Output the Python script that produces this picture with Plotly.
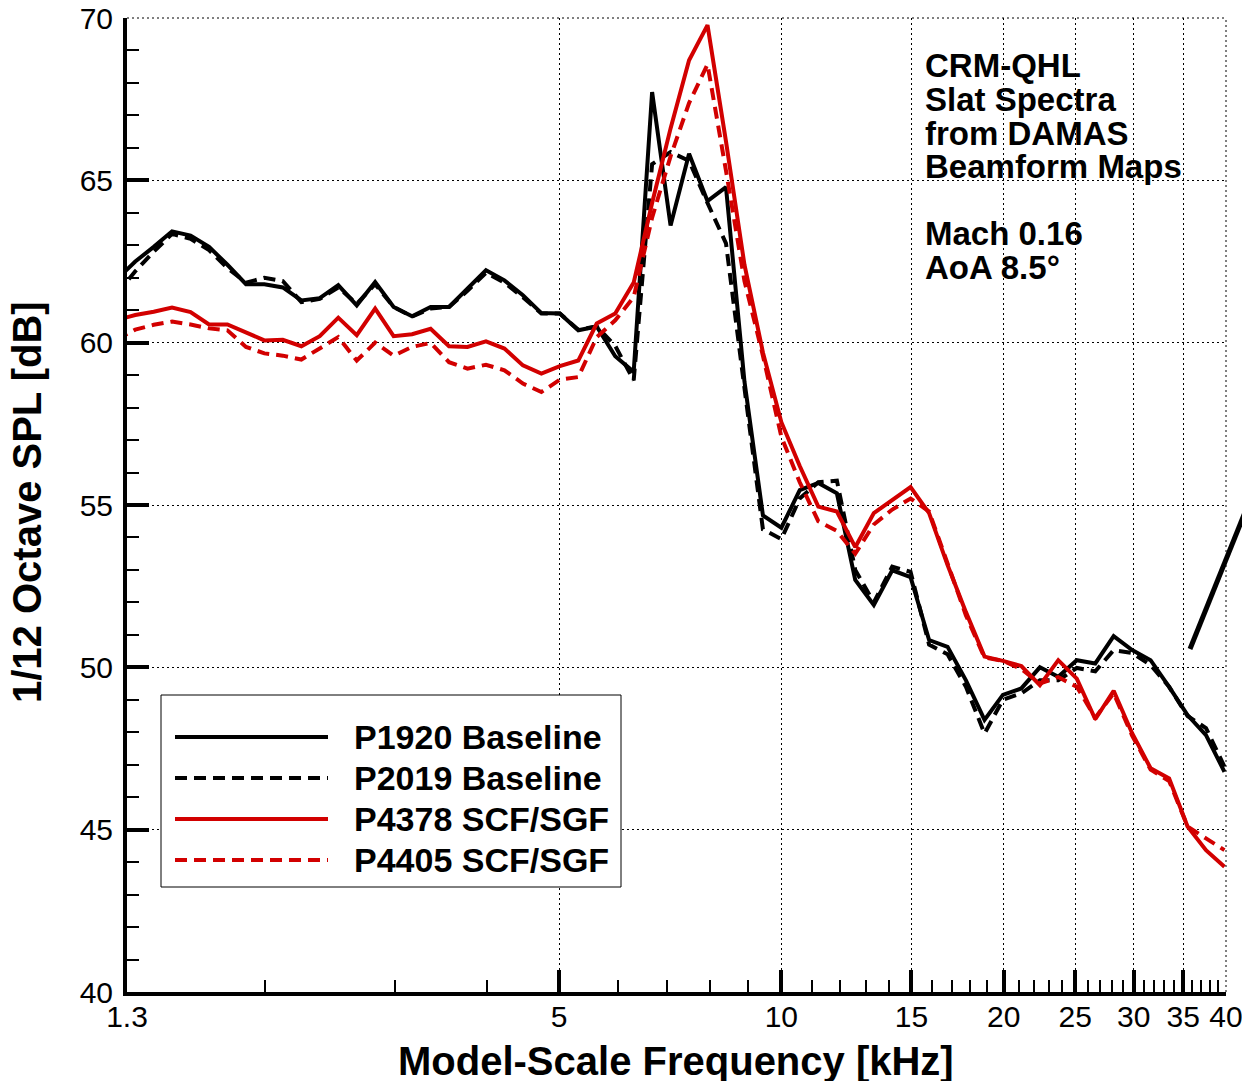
import math
import plotly.graph_objects as go

# 1/12-octave band centre frequencies [kHz]
freq_khz = [1.259, 1.334, 1.413, 1.496, 1.585, 1.679, 1.778, 1.884, 1.995, 2.113,
            2.239, 2.371, 2.512, 2.661, 2.818, 2.985, 3.162, 3.350, 3.548, 3.758,
            3.981, 4.217, 4.467, 4.732, 5.012, 5.309, 5.623, 5.957, 6.310, 6.683,
            7.079, 7.499, 7.943, 8.414, 8.913, 9.441, 10.00, 10.59, 11.22, 11.89,
            12.59, 13.34, 14.13, 14.96, 15.85, 16.79, 17.78, 18.84, 19.95, 21.13,
            22.39, 23.71, 25.12, 26.61, 28.18, 29.85, 31.62, 33.50, 35.48, 37.58,
            39.81]

p1920_baseline = [61.95, 62.5, 62.95, 63.43, 63.3, 62.95, 62.4, 61.8, 61.8, 61.7,
                  61.3, 61.37, 61.77, 61.15, 61.87, 61.1, 60.81, 61.1, 61.1, 61.66,
                  62.23, 61.92, 61.46, 60.91, 60.9, 60.38, 60.5, 59.58, 59.1, 67.72,
                  63.61, 65.82, 64.36, 64.79, 58.8, 54.68, 54.3, 55.46, 55.68, 55.36,
                  52.69, 51.92, 52.99, 52.78, 50.84, 50.63, 49.6, 48.38, 49.15, 49.35,
                  50.0, 49.71, 50.22, 50.12, 50.96, 50.53, 50.22, 49.4, 48.53, 47.91,
                  46.78]

p2019_baseline = [61.5, 62.2, 62.8, 63.35, 63.2, 62.85, 62.3, 61.85, 62.0, 61.9,
                  61.25, 61.35, 61.7, 61.2, 61.8, 61.1, 60.8, 61.05, 61.1, 61.6,
                  62.15, 61.85, 61.4, 60.9, 60.9, 60.4, 60.5, 59.9, 58.84, 65.5,
                  65.87, 65.6, 64.3, 63.06, 58.6, 54.25, 53.95, 55.2, 55.7, 55.75,
                  53.0, 52.0, 53.1, 52.94, 50.7, 50.4, 49.4, 47.96, 49.0, 49.2,
                  49.6, 49.6, 49.98, 49.88, 50.53, 50.44, 50.07, 49.4, 48.5, 48.13,
                  46.94]

p4378_scf_sgf = [60.7, 60.85, 60.95, 61.08, 60.94, 60.56, 60.56, 60.3, 60.07, 60.09,
                 59.89, 60.2, 60.77, 60.23, 61.05, 60.2, 60.26, 60.43, 59.89, 59.87,
                 60.04, 59.82, 59.3, 59.05, 59.28, 59.45, 60.59, 60.9, 61.85, 64.3,
                 66.6, 68.7, 69.78, 66.2, 62.4, 59.7, 57.55, 56.2, 54.95, 54.8,
                 53.7, 54.75, 55.16, 55.55, 54.75, 53.15, 51.7, 50.33, 50.2, 50.04,
                 49.45, 50.22, 49.65, 48.4, 49.28, 47.97, 46.89, 46.58, 45.1, 44.37,
                 43.86]

p4405_scf_sgf = [60.1, 60.4, 60.55, 60.65, 60.56, 60.44, 60.38, 59.87, 59.67, 59.6,
                 59.48, 59.83, 60.17, 59.45, 60.0, 59.6, 59.87, 59.99, 59.4, 59.2,
                 59.32, 59.15, 58.74, 58.48, 58.86, 58.94, 60.17, 60.69, 61.4, 63.85,
                 65.74, 67.38, 68.57, 65.3, 61.9, 59.6, 57.1, 55.7, 54.5, 54.2,
                 53.5, 54.4, 54.86, 55.2, 54.8, 53.2, 51.6, 50.3, 50.2, 49.95,
                 49.5, 49.7, 49.4, 48.45, 49.2, 47.9, 46.85, 46.5, 45.1, 44.73,
                 44.37]

series_names = ["P1920 Baseline", "P2019 Baseline", "P4378 SCF/SGF", "P4405 SCF/SGF"]
series_values = [p1920_baseline, p2019_baseline, p4378_scf_sgf, p4405_scf_sgf]

x_tick_vals = [1.3, 5, 10, 15, 20, 25, 30, 35, 40]
x_tick_text = ["1.3", "5", "10", "15", "20", "25", "30", "35", "40"]
x_minor_vals = [2, 3, 4, 6, 7, 8, 9, 11, 12, 13, 14, 16, 17, 18, 19,
                21, 22, 23, 24, 26, 27, 28, 29, 31, 32, 33, 34, 36, 37, 38, 39]
y_tick_vals = [40, 45, 50, 55, 60, 65, 70]

info_lines = ["CRM-QHL", "Slat Spectra", "from DAMAS", "Beamform Maps", "Mach 0.16", "AoA 8.5°"]

RED = "#d20000"
DASH = "12px,7px"
GRIDDASH = "2px,3px"
styles = [dict(color="black", dash="solid"),
          dict(color="black", dash=DASH),
          dict(color=RED, dash="solid"),
          dict(color=RED, dash=DASH)]

W, H = 1242, 1081
L, R, T, B = 127, 16, 18, 89
PW, PH = W - L - R, H - T - B


def px_x(px):
    return (px - L) / PW


def px_y(py):
    return (H - B - py) / PH


FONT = "Liberation Sans, Arial, Helvetica, sans-serif"

fig = go.Figure()
for name, vals, st in zip(series_names, series_values, styles):
    fig.add_trace(go.Scatter(x=freq_khz, y=vals, mode="lines", name=name,
                             line=dict(color=st["color"], dash=st["dash"], width=4),
                             showlegend=False))

shapes = []
annotations = []

# dotted frame on top and right
shapes.append(dict(type="line", xref="paper", yref="paper", x0=0, x1=1, y0=1, y1=1,
                   line=dict(color="black", width=1, dash=GRIDDASH)))
shapes.append(dict(type="line", xref="paper", yref="paper", x0=1, x1=1, y0=0, y1=1,
                   line=dict(color="black", width=1, dash=GRIDDASH)))

# manual legend
shapes.append(dict(type="rect", xref="paper", yref="paper",
                   x0=px_x(161), x1=px_x(621), y0=px_y(887), y1=px_y(695),
                   line=dict(color="black", width=1), fillcolor="white", layer="above"))
legend_rows = [737, 778, 819, 860]
for name, st, ry in zip(series_names, styles, legend_rows):
    shapes.append(dict(type="line", xref="paper", yref="paper",
                       x0=px_x(175), x1=px_x(328), y0=px_y(ry), y1=px_y(ry),
                       line=dict(color=st["color"], dash=st["dash"], width=4), layer="above"))
    annotations.append(dict(xref="paper", yref="paper", x=px_x(352), y=px_y(ry),
                            xanchor="left", yanchor="middle", showarrow=False, text=name,
                            font=dict(family=FONT, size=34, color="black", weight="bold")))

# info text block
info_y = [66, 100, 133, 166, 234, 267]
for txt, iy in zip(info_lines, info_y):
    annotations.append(dict(xref="paper", yref="paper", x=px_x(923), y=px_y(iy),
                            xanchor="left", yanchor="middle", showarrow=False, text=txt,
                            font=dict(family=FONT, size=33, color="black", weight="bold")))

# pointer line at right edge
shapes.append(dict(type="line", xref="paper", yref="paper",
                   x0=px_x(1190), y0=px_y(649), x1=px_x(1262), y1=px_y(470),
                   line=dict(color="black", width=5)))

# axis titles
annotations.append(dict(xref="paper", yref="paper", x=px_x(676), y=px_y(1061),
                        xanchor="center", yanchor="middle", showarrow=False,
                        text="Model-Scale Frequency [kHz]",
                        font=dict(family=FONT, size=40, color="black", weight="bold")))
annotations.append(dict(xref="paper", yref="paper", x=px_x(27), y=px_y(502),
                        xanchor="center", yanchor="middle", showarrow=False, textangle=-90,
                        text="1/12 Octave SPL [dB]",
                        font=dict(family=FONT, size=40, color="black", weight="bold")))

fig.update_layout(
    width=W, height=H,
    margin=dict(l=L, r=R, t=T, b=B, autoexpand=False),
    paper_bgcolor="white", plot_bgcolor="white",
    font=dict(family=FONT, color="black"),
    showlegend=False,
    shapes=shapes,
    annotations=annotations,
    xaxis=dict(type="log", range=[math.log10(1.3), math.log10(40)], autorange=False,
               automargin=False, ticklabeloverflow="allow",
               tickmode="array", tickvals=x_tick_vals, ticktext=x_tick_text,
               ticks="inside", ticklen=22, tickwidth=4, tickcolor="black",
               showline=True, linewidth=4, linecolor="black", mirror=False,
               showgrid=True, gridcolor="black", gridwidth=1, griddash=GRIDDASH,
               zeroline=False, tickfont=dict(family=FONT, size=30, color="black"),
               ticklabelstandoff=-5,
               minor=dict(tickmode="array", tickvals=x_minor_vals, ticks="inside",
                          ticklen=12, tickwidth=1.5, tickcolor="black", showgrid=False)),
    yaxis=dict(range=[40, 70], autorange=False, automargin=False, ticklabeloverflow="allow",
               tickmode="array", tickvals=y_tick_vals,
               ticks="inside", ticklen=22, tickwidth=4, tickcolor="black",
               showline=True, linewidth=4, linecolor="black", mirror=False,
               showgrid=True, gridcolor="black", gridwidth=1, griddash=GRIDDASH,
               zeroline=False, tickfont=dict(family=FONT, size=30, color="black"),
               ticklabelstandoff=4,
               minor=dict(dtick=1, ticks="inside", ticklen=12, tickwidth=1.5,
                          tickcolor="black", showgrid=False)),
)

fig.write_html("out.html",
               config={"displayModeBar": False},
               post_script="document.body.style.margin='0';document.body.style.overflow='hidden';")
